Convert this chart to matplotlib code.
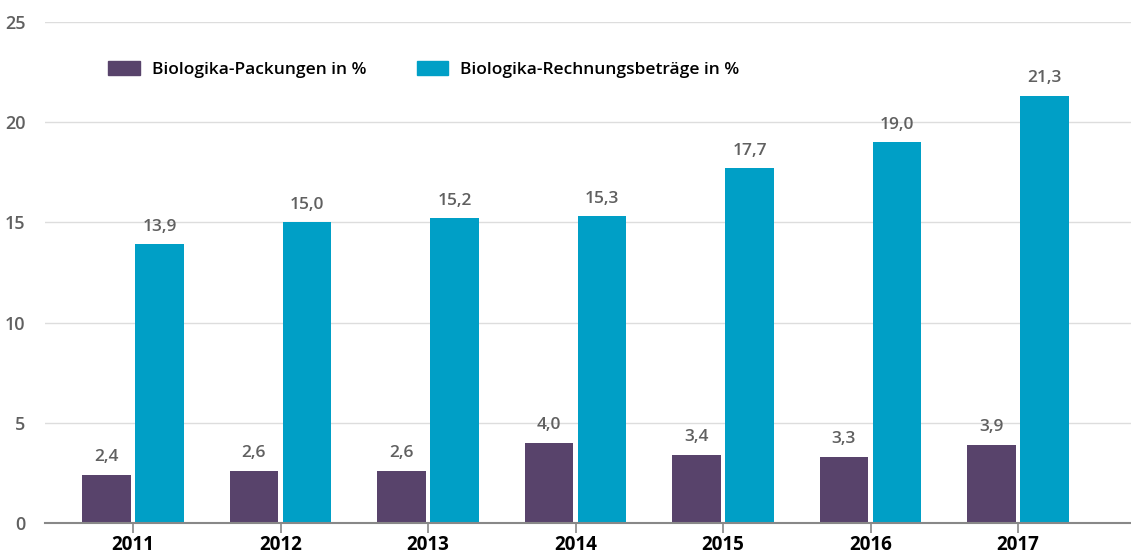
import matplotlib
matplotlib.use("Agg")
import matplotlib.pyplot as plt
import numpy as np
from matplotlib.patches import Patch

years = ["2011", "2012", "2013", "2014", "2015", "2016", "2017"]
packungen = [2.4, 2.6, 2.6, 4.0, 3.4, 3.3, 3.9]
rechnung = [13.9, 15.0, 15.2, 15.3, 17.7, 19.0, 21.3]
labels = ["Biologika-Packungen in %", "Biologika-Rechnungsbeträge in %"]
yticks = [0, 5, 10, 15, 20, 25]

purple = "#58436B"
cyan = "#009FC6"
gray = "#606060"

plt.rcParams['font.family'] = ['Open Sans', 'DejaVu Sans']

fig = plt.figure(figsize=(11.31, 5.57), dpi=100)
ax = fig.add_axes([45/1131, 34/557, 1086/1131, 501/557])

x = np.arange(len(years))
w = 0.33
b1 = ax.bar(x - 0.18, packungen, w, color=purple, zorder=3)
b2 = ax.bar(x + 0.18, rechnung, w, color=cyan, zorder=3)

def fmt(v):
    return f"{v:.1f}".replace(".", ",")

for bars, vals in ((b1, packungen), (b2, rechnung)):
    for r, v in zip(bars, vals):
        ax.annotate(fmt(v), (r.get_x() + r.get_width()/2, v),
                    xytext=(0, 7), textcoords="offset points",
                    ha="center", va="bottom", fontsize=12.5,
                    fontweight="semibold", color=gray)

ax.set_xlim(-0.597, 6.766)
ax.set_ylim(0, 25)
ax.set_yticks(yticks)
ax.set_yticklabels([str(t) for t in yticks], fontsize=13, color=gray, fontweight="semibold")
ax.set_xticks(x)
ax.set_xticklabels(years, fontsize=13.5, fontweight="bold", color="black")
ax.tick_params(axis="y", length=0, pad=14)
ax.tick_params(axis="x", length=7, width=1.2, color="#888888", pad=2)
ax.yaxis.grid(True, color="#dddddd", linewidth=1, zorder=0)
ax.set_axisbelow(True)
for s in ("top", "right", "left"):
    ax.spines[s].set_visible(False)
ax.spines["bottom"].set_color("#888888")
ax.spines["bottom"].set_linewidth(1.5)
ax.spines["bottom"].set_zorder(4)

handles = [Patch(color=purple), Patch(color=cyan)]
leg = ax.legend(handles, labels, ncol=2, frameon=False, loc="upper left",
                bbox_to_anchor=(0.044, 0.954), handlelength=1.8, handleheight=0.9,
                columnspacing=2.9, handletextpad=0.7,
                prop={"size": 12.5, "weight": "semibold"})

fig.savefig("out.png", dpi=100, facecolor="white")
